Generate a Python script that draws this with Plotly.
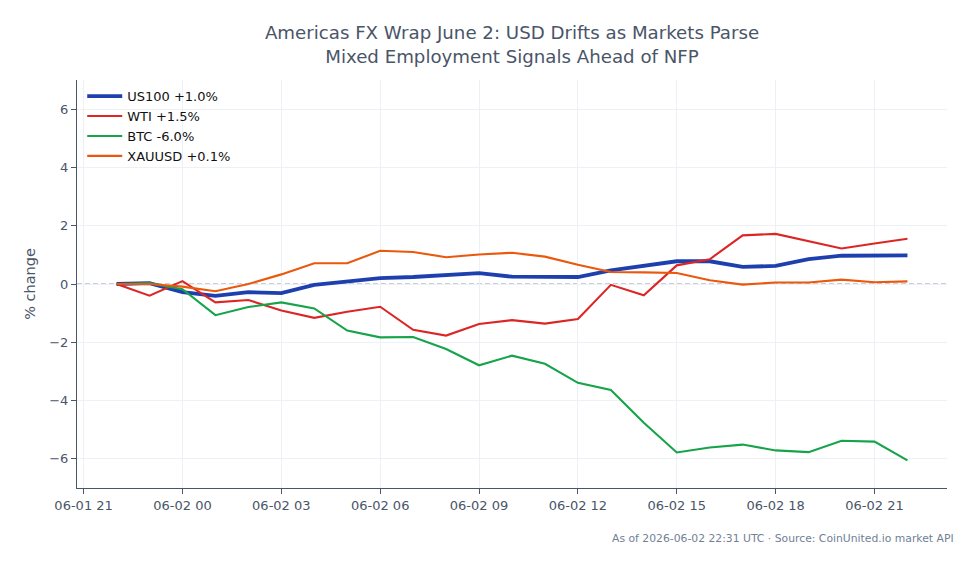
import pandas as pd
import plotly.graph_objects as go

times = pd.date_range("2026-06-01 22:00", "2026-06-02 22:00", freq="h")

us100 = [0.0, 0.03, -0.28, -0.41, -0.28, -0.31, -0.03, 0.07, 0.2, 0.24, 0.3, 0.37, 0.25, 0.25,
         0.24, 0.47, 0.62, 0.78, 0.78, 0.59, 0.62, 0.85, 0.97, 0.99, 0.98]
wti = [0.0, -0.4, 0.1, -0.63, -0.55, -0.91, -1.16, -0.95, -0.78, -1.57, -1.77, -1.37, -1.24, -1.36,
       -1.2, -0.03, -0.39, 0.64, 0.85, 1.67, 1.72, 1.47, 1.22, 1.39, 1.55]
btc = [0.0, 0.03, -0.18, -1.07, -0.79, -0.63, -0.84, -1.6, -1.83, -1.82, -2.23, -2.79, -2.46, -2.74,
       -3.39, -3.64, -4.76, -5.78, -5.61, -5.51, -5.71, -5.77, -5.38, -5.41, -6.05]
xauusd = [0.0, 0.0, -0.09, -0.25, 0.0, 0.33, 0.71, 0.71, 1.14, 1.1, 0.92, 1.01, 1.07, 0.94,
          0.66, 0.41, 0.4, 0.38, 0.13, -0.02, 0.05, 0.05, 0.15, 0.06, 0.09]

names = ["US100 +1.0%", "WTI +1.5%", "BTC -6.0%", "XAUUSD +0.1%"]
series = [us100, wti, btc, xauusd]
colors = ["#1e40af", "#dc2626", "#16a34a", "#ea580c"]
widths = [3.8, 2.1, 2.1, 2.1]

title_text = "Americas FX Wrap June 2: USD Drifts as Markets Parse<br>Mixed Employment Signals Ahead of NFP"
footer_text = "As of 2026-06-02 22:31 UTC · Source: CoinUnited.io market API"
ylabel = "% change"

FONT = "DejaVu Sans"
TXT = "#4a5568"

fig = go.Figure()
for nm, ys, c, w in zip(names, series, colors, widths):
    fig.add_trace(go.Scatter(x=times, y=ys, mode="lines", name=nm,
                             line=dict(color=c, width=w)))

fig.add_hline(y=0, line=dict(color="#8f9db3", width=1, dash="5px,3px"), layer="below")

fig.update_layout(
    width=979, height=564,
    margin=dict(l=77, r=32, t=80, b=76),
    paper_bgcolor="white", plot_bgcolor="white",
    font=dict(family=FONT, color=TXT, size=13),
    title=dict(text=title_text, x=0.5, xref="paper", xanchor="center",
               y=0.93, yref="container", yanchor="middle",
               font=dict(size=18.2, color=TXT, family=FONT)),
    legend=dict(x=0.006, y=0.997, xanchor="left", yanchor="top",
                bgcolor="rgba(255,255,255,0)", borderwidth=0,
                font=dict(size=13, color="#111111", family=FONT),
                tracegroupgap=0, itemwidth=35),
    showlegend=True,
)

fig.update_xaxes(
    range=[pd.Timestamp("2026-06-01 20:48"), pd.Timestamp("2026-06-02 23:12")],
    tickformat="%m-%d %H", dtick=3 * 3600 * 1000, tick0="2026-06-01 21:00",
    showgrid=True, gridcolor="#edf0f4", gridwidth=1,
    showline=True, linecolor=TXT, linewidth=1.2, mirror=False,
    ticks="outside", ticklen=5, tickcolor=TXT, tickwidth=1,
    tickfont=dict(size=13, color=TXT, family=FONT), zeroline=False,
)
fig.update_yaxes(
    range=[-7, 7], tickvals=[-6, -4, -2, 0, 2, 4, 6],
    showgrid=True, gridcolor="#edf0f4", gridwidth=1,
    showline=True, linecolor=TXT, linewidth=1.2,
    ticks="outside", ticklen=5, tickcolor=TXT, tickwidth=1,
    tickfont=dict(size=13, color=TXT, family=FONT), zeroline=False,
    title=dict(text=ylabel, font=dict(size=14.5, color=TXT, family=FONT), standoff=10),
)

fig.add_annotation(text=footer_text, xref="paper", yref="paper", x=1.0105, y=-0.102,
                   xanchor="right", yanchor="top", showarrow=False,
                   font=dict(size=10.8, color="#718096", family=FONT))

fig.write_html("out.html")
